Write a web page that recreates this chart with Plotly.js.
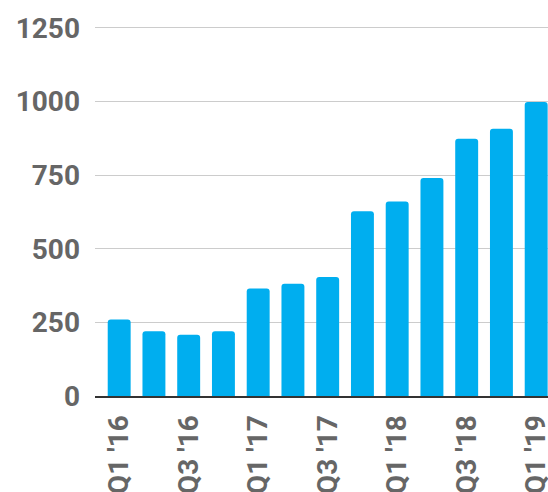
<!DOCTYPE html>
<html>
<head>
<meta charset="utf-8">
<script src="https://cdn.plot.ly/plotly-3.0.1.min.js"></script>
<style>html,body{margin:0;padding:0;background:#fff;}#chart{width:548px;height:492px;}</style>
</head>
<body>
<div id="chart"></div>
<script>
const quarters = ["Q1 '16","Q2 '16","Q3 '16","Q4 '16","Q1 '17","Q2 '17","Q3 '17","Q4 '17","Q1 '18","Q2 '18","Q3 '18","Q4 '18","Q1 '19"];
const values = [260, 220, 208, 220, 365, 381, 404, 627, 660, 740, 873, 907, 998];
const xTickLabels = ["Q1 '16","Q3 '16","Q1 '17","Q3 '17","Q1 '18","Q3 '18","Q1 '19"];
const yTicks = [0, 250, 500, 750, 1000, 1250];

const trace = {
  type: 'bar',
  x: quarters,
  y: values,
  marker: {color: '#00AEEF', cornerradius: 3},
  width: 0.66,
  hoverinfo: 'skip'
};

const font = {family: 'Roboto, sans-serif', size: 28, color: '#666666', weight: 'bold'};

const layout = {
  width: 548, height: 492,
  margin: {l: 95, r: 0, t: 16, b: 96, pad: 0},
  paper_bgcolor: '#fff', plot_bgcolor: '#fff',
  showlegend: false,
  font: font,
  xaxis: {
    type: 'category',
    range: [-0.696, 12.34],
    tickmode: 'array',
    tickvals: xTickLabels,
    ticktext: xTickLabels,
    tickangle: -90,
    tickfont: font,
    showgrid: false,
    showline: true, linecolor: '#333333', linewidth: 2,
    ticks: '', ticklabelstandoff: 6
  },
  yaxis: {
    range: [0, 1290],
    tickmode: 'array',
    tickvals: yTicks,
    ticktext: yTicks.map(String),
    tickfont: font,
    showgrid: true, gridcolor: '#cccccc', gridwidth: 1,
    zeroline: false, showline: false,
    ticks: '', ticklabelstandoff: 14
  }
};

Plotly.newPlot('chart', [trace], layout, {staticPlot: true, displayModeBar: false});
</script>
</body>
</html>
